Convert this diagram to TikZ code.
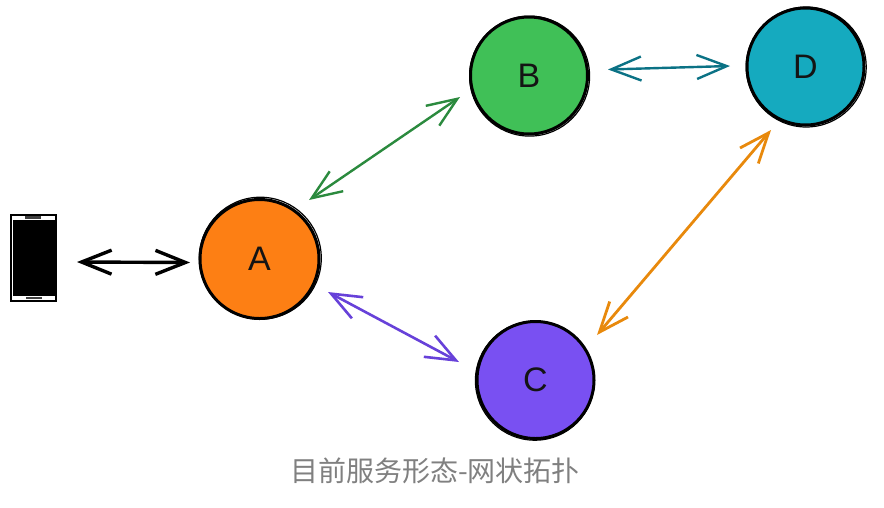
\documentclass[tikz,border=0pt]{standalone}
\usepackage{fontspec}
\setmainfont{Liberation Sans}
\newfontfamily\cjk{Noto Sans CJK SC}[Scale=1]
\usetikzlibrary{arrows.meta}
\definecolor{orangeA}{HTML}{FD7F14}
\definecolor{greenB}{HTML}{40C057}
\definecolor{violetC}{HTML}{7950F2}
\definecolor{tealD}{HTML}{15AABF}
\definecolor{lnGreen}{HTML}{2B8A3E}
\definecolor{lnTeal}{HTML}{0B7285}
\definecolor{lnViolet}{HTML}{6741D9}
\definecolor{lnOrange}{HTML}{E8890C}
\tikzset{
  server/.style={circle,draw=black,line width=3pt,inner sep=0pt,font=\fontsize{34}{34}\selectfont,text=black!92},
  sketch/.style={draw=black,line width=1.2pt},
  link/.style={line width=#1,{Straight Barb[length=30pt,width=24pt,line width=#1]}-{Straight Barb[length=30pt,width=24pt,line width=#1]}},
  caption/.style={font=\cjk\fontsize{28}{28}\selectfont,text=black!50,inner sep=0pt}
}
\begin{document}
\begin{tikzpicture}[x=1pt,y=-1pt]
\useasboundingbox (0,0) rectangle (884,507);
% servers
\node[server,fill=orangeA,minimum size=119pt] (A) at (259.5,259) {A};
\node[server,fill=greenB,minimum size=117pt] (B) at (529,75.5) {B};
\node[server,fill=violetC,minimum size=117pt] (C) at (535.5,380) {C};
\node[server,fill=tealD,minimum size=117pt] (D) at (805.5,66.5) {D};
\draw[sketch] (A.center) ++(0.8,-0.8) circle [radius=61pt];
\draw[sketch] (B.center) ++(0.6,0.6) circle [radius=60pt];
\draw[sketch] (C.center) ++(-0.6,0.7) circle [radius=59.5pt];
\draw[sketch] (D.center) ++(0.7,0.5) circle [radius=60pt];
% phone
\node[draw=black,line width=1.8pt,fill=white,minimum width=45pt,minimum height=86pt,inner sep=0pt] (phone) at (33.5,258) {};
\node[fill=black,minimum width=42pt,minimum height=76pt,inner sep=0pt] (screen) at (phone.center) {};
\node[fill=black!75,minimum width=16pt,minimum height=2.5pt,inner sep=0pt] (spk) at (33,217.5) {};
\node[fill=black!75,minimum width=16pt,minimum height=2.5pt,inner sep=0pt] (btn) at (33.5,298) {};
% connector ends
\coordinate (p1) at (77,262);
\coordinate (a1) at (190,262.5);
\coordinate (a2) at (309,200);
\coordinate (b1) at (460,97);
\coordinate (b2) at (608,69.5);
\coordinate (d1) at (730,66);
\coordinate (a3) at (328,292);
\coordinate (c1) at (459,362);
\coordinate (c2) at (597,335);
\coordinate (d2) at (771,130);
\draw[link=3.4pt,draw=black] (p1) -- (a1);
\draw[link=2.4pt,draw=lnGreen] (a2) -- (b1);
\draw[link=2.4pt,draw=lnTeal] (b2) -- (d1);
\draw[link=2.6pt,draw=lnViolet] (a3) -- (c1);
\draw[link=2.8pt,draw=lnOrange] (c2) -- (d2);
\node[caption] (cap) at (435,471) {目前服务形态-网状拓扑};
\end{tikzpicture}
\end{document}
